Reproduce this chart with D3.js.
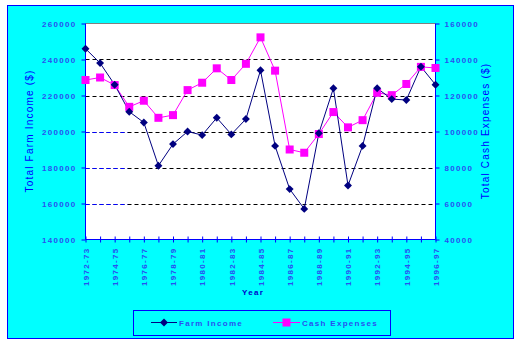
<!DOCTYPE html>
<html><head><meta charset="utf-8">
<script src="https://cdn.jsdelivr.net/npm/d3@7"></script>
<style>body{margin:0;background:#fff}svg{display:block}text{font-family:Arial,"Liberation Sans",sans-serif}</style>
</head><body><svg id="c" width="519" height="353"></svg>
<script>
const years = ["1972-73","1973-74","1974-75","1975-76","1976-77","1977-78","1978-79","1979-80","1980-81","1981-82","1982-83","1983-84","1984-85","1985-86","1986-87","1987-88","1988-89","1989-90","1990-91","1991-92","1992-93","1993-94","1994-95","1995-96","1996-97"];
const farmIncome = [246000,238000,226000,211000,205000,181000,193000,200000,198000,207600,198400,206900,234000,192000,168000,157000,199000,224000,170000,192000,224000,218000,217500,236000,226000];
const cashExpenses = [128600,130000,125800,113700,117100,107600,109100,123000,127100,135100,128600,137600,152300,133800,90000,88200,98600,110800,102300,106300,121500,120200,126400,135900,135300];
const leftTicks = [140000,160000,180000,200000,220000,240000,260000];
const rightTicks = [40000,60000,80000,100000,120000,140000,160000];
const seriesNames = ["Farm Income","Cash Expenses"];

const svg = d3.select("#c");
const L=85.5, R=435.5, T=23.5, B=239.5;
const tickCol="#2a4ff0", axisCol="#0000ff", navy="#000080", mag="#ff00ff";

svg.append("rect").attr("x",7.5).attr("y",5.5).attr("width",506).attr("height",333).attr("fill","#00ffff").attr("stroke","#0000ff");
svg.append("rect").attr("x",L).attr("y",T).attr("width",R-L).attr("height",B-T).attr("fill","#fff");

const x = d3.scalePoint().domain(years).range([L,R]);
const yL = d3.scaleLinear().domain([140000,260000]).range([B,T]);
const yR = d3.scaleLinear().domain([40000,160000]).range([B,T]);

// gridlines
leftTicks.filter(v=>v>140000&&v<260000).forEach(v=>{
  svg.append("line").attr("x1",L).attr("x2",R).attr("y1",Math.round(yL(v))+0.5).attr("y2",Math.round(yL(v))+0.5)
    .attr("stroke","#000").attr("stroke-dasharray","4,3");
  if(v<=200000) svg.append("line").attr("x1",L).attr("x2",128).attr("y1",Math.round(yL(v))+0.5).attr("y2",Math.round(yL(v))+0.5)
    .attr("stroke","#0000ff").attr("stroke-dasharray","4,3");
});
svg.append("line").attr("x1",L).attr("x2",R).attr("y1",T).attr("y2",T).attr("stroke","#808080");

// axes
const gl = svg.append("g").attr("transform",`translate(${L},0)`)
  .call(d3.axisLeft(yL).tickValues(leftTicks).tickSize(4).tickPadding(5).tickFormat(d3.format("d")));
const gr = svg.append("g").attr("transform",`translate(${R},0)`)
  .call(d3.axisRight(yR).tickValues(rightTicks).tickSize(4).tickPadding(5).tickFormat(d3.format("d")));
const gx = svg.append("g").attr("transform",`translate(0,${B})`)
  .call(d3.axisBottom(x).tickSize(3).tickPadding(5).tickFormat((d,i)=>i%2===0?d:""));
[gl,gr,gx].forEach(g=>{
  g.selectAll("path,line").attr("stroke",axisCol);
  g.selectAll("text").attr("fill",tickCol).style("font-size","8px").style("letter-spacing","1.3px").style("font-weight","bold").style("font-family","Arial,'Liberation Sans',sans-serif");
});
gl.select(".domain").attr("d",`M0,${T}V${B}`);
gr.select(".domain").attr("d",`M0,${T}V${B}`);
gx.select(".domain").attr("d",`M${L},0H${R}`);
gx.selectAll(".tick line").attr("y1",-3);
gx.selectAll("text").attr("transform","rotate(-90)").attr("text-anchor","end").attr("x",-8).attr("y",0).attr("dy","0.35em");

// titles
svg.append("text").attr("transform","translate(33,131) rotate(-90)").attr("text-anchor","middle")
  .attr("fill","#0000ff").style("font-size","10px").style("letter-spacing","1.2px").text("Total Farm Income ($)");
svg.append("text").attr("transform","translate(489,131) rotate(-90)").attr("text-anchor","middle")
  .attr("fill","#0000ff").style("font-size","10px").style("letter-spacing","1.2px").text("Total Cash Expenses ($)");
svg.append("text").attr("x",253).attr("y",295).attr("text-anchor","middle").attr("fill","#0000cc")
  .style("font-size","8px").style("font-weight","bold").style("letter-spacing","1.3px").text("Year");

// lines
const lineL = d3.line().x((d,i)=>x(years[i])).y(d=>yL(d));
const lineR = d3.line().x((d,i)=>x(years[i])).y(d=>yR(d));
svg.append("path").attr("d",lineR(cashExpenses)).attr("fill","none").attr("stroke",mag).attr("stroke-width",1);
svg.append("path").attr("d",lineL(farmIncome)).attr("fill","none").attr("stroke",navy).attr("stroke-width",1);
const diamond = d3.symbol().type(d3.symbolDiamond2).size(40);
svg.selectAll(".sq").data(cashExpenses).join("rect").attr("x",(d,i)=>x(years[i])-4).attr("y",d=>yR(d)-4)
  .attr("width",8).attr("height",8).attr("fill",mag);
svg.selectAll(".dm").data(farmIncome).join("path").attr("d",diamond)
  .attr("transform",(d,i)=>`translate(${x(years[i])},${yL(d)})`).attr("fill",navy);

// legend
svg.append("rect").attr("x",133.5).attr("y",310.5).attr("width",257).attr("height",25).attr("fill","none").attr("stroke","#0000ff");
const lg = [{x1:151,x2:177,c:navy,tx:179},{x1:273,x2:300,c:mag,tx:302}];
lg.forEach((l,i)=>{
  svg.append("line").attr("x1",l.x1).attr("x2",l.x2).attr("y1",322.5).attr("y2",322.5).attr("stroke",l.c);
  const mx=(l.x1+l.x2)/2;
  if(i===0) svg.append("path").attr("d",diamond).attr("transform",`translate(${mx},322.5)`).attr("fill",navy);
  else svg.append("rect").attr("x",mx-4).attr("y",318.5).attr("width",8).attr("height",8).attr("fill",mag);
  svg.append("text").attr("x",l.tx).attr("y",323).attr("dy","0.35em").attr("fill",tickCol)
    .style("font-size","8px").style("font-weight","bold").style("letter-spacing","1.3px").text(seriesNames[i]);
});
</script></body></html>
